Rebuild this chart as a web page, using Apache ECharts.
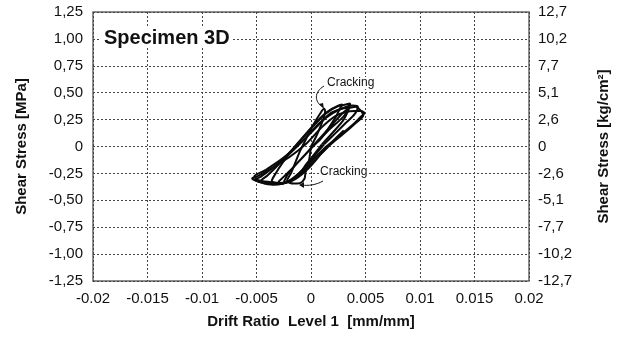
<!DOCTYPE html>
<html><head><meta charset="utf-8">
<script src="https://cdn.jsdelivr.net/npm/echarts@6/dist/echarts.min.js"></script>
<style>html,body{margin:0;padding:0;background:#fff}#c{width:620px;height:337px}</style>
</head><body><div id="c"></div>
<script>
var xTickLabels = ['-0.02','-0.015','-0.01','-0.005','0','0.005','0.01','0.015','0.02'];
var yLeftTickLabels = ['-1,25','-1,00','-0,75','-0,50','-0,25','0','0,25','0,50','0,75','1,00','1,25'];
var yRightTickLabels = ['-12,7','-10,2','-7,7','-5,1','-2,6','0','2,6','5,1','7,7','10,2','12,7'];

var loop1 = [[0,0],[0.0005,0.1],[0.001,0.22],[0.0013,0.33],[0.0012,0.35],[0.0008,0.3],[0.0002,0.2],[-0.0004,0.08],[-0.001,-0.04],[-0.0014,-0.14],[-0.0018,-0.24],[-0.0022,-0.32],[-0.0016,-0.345],[-0.001,-0.34],[-0.0006,-0.3],[-0.0005,-0.24],[-0.0002,-0.14],[0,0]];
var loop2 = [[0,0],[0.0008,0.06],[0.0016,0.17],[0.0023,0.28],[0.0027,0.36],[0.0029,0.39],[0.0025,0.38],[0.0016,0.33],[0.0006,0.24],[-0.0006,0.1],[-0.0016,-0.02],[-0.0026,-0.15],[-0.0033,-0.26],[-0.0036,-0.32],[-0.0031,-0.34],[-0.0022,-0.33],[-0.0012,-0.27],[-0.0004,-0.16],[0.0004,-0.06],[0.001,0.02]];
var loop3 = [[0.001,0.02],[0.002,0.13],[0.003,0.25],[0.0034,0.33],[0.0036,0.4],[0.0032,0.39],[0.0024,0.37],[0.0014,0.31],[0.0004,0.21],[-0.0008,0.08],[-0.002,-0.06],[-0.003,-0.17],[-0.004,-0.27],[-0.0046,-0.32],[-0.0041,-0.345],[-0.003,-0.35],[-0.0018,-0.31],[-0.0008,-0.22],[0.0002,-0.1],[0.0012,0.02]];
var loop4 = [[0.0012,0.02],[0.0022,0.12],[0.0032,0.22],[0.004,0.3],[0.0043,0.37],[0.0038,0.38],[0.003,0.36],[0.002,0.31],[0.0008,0.22],[-0.0006,0.07],[-0.002,-0.07],[-0.0034,-0.19],[-0.0046,-0.28],[-0.0051,-0.31],[-0.0046,-0.335],[-0.0035,-0.355],[-0.0022,-0.33],[-0.001,-0.24],[0.0002,-0.12],[0.0014,0.0]];
var loop5 = [[0.0014,0],[0.0026,0.1],[0.0038,0.2],[0.0046,0.28],[0.0049,0.31],[0.0046,0.33],[0.004,0.33],[0.0032,0.32],[0.0022,0.28],[0.001,0.18],[-0.0005,0.02],[-0.002,-0.1],[-0.0036,-0.2],[-0.0048,-0.27],[-0.0054,-0.295],[-0.005,-0.32],[-0.004,-0.34],[-0.0028,-0.345],[-0.0016,-0.3],[-0.0004,-0.2],[0.0008,-0.08],[0.0018,0.02]];
var loop6 = [[0.0018,0.02],[0.003,0.12],[0.004,0.21],[0.0048,0.29],[0.0045,0.34],[0.0041,0.37],[0.0036,0.36],[0.0028,0.35],[0.0018,0.31],[0.0006,0.19],[-0.001,0.03],[-0.0026,-0.11],[-0.0042,-0.22],[-0.0052,-0.28],[-0.0049,-0.31],[-0.0038,-0.33],[-0.0026,-0.34],[-0.0014,-0.3],[-0.0002,-0.2],[0.001,-0.06],[0.002,0.05],[0.003,0.15]];
var loop7 = [[-0.003,-0.33],[-0.0015,-0.18],[0,-0.02],[0.0015,0.14],[0.003,0.28],[0.0035,0.36],[0.0028,0.3],[0.0012,0.12],[-0.0004,-0.06],[-0.002,-0.24],[-0.0025,-0.33]];
var loops = [loop1, loop2, loop3, loop4, loop5, loop6, loop7];

var FONT = '"Liberation Sans", Arial, sans-serif';
function idx(v, min, step){ return Math.round((v - min) / step); }

var series = loops.map(function(d){
  return {type:'line', data:d, showSymbol:false, symbol:'none', smooth:0.3,
    lineStyle:{color:'#0a0a0a', width:2}, silent:true, animation:false, xAxisIndex:0, yAxisIndex:0};
});

var chart = echarts.init(document.getElementById('c'), null, {renderer:'canvas'});
chart.setOption({
  animation:false,
  backgroundColor:'#fff',
  grid:{left:93, right:91, top:12, bottom:56, show:true, borderColor:'#666', borderWidth:1.5, backgroundColor:'transparent'},
  xAxis:{type:'value', min:-0.02, max:0.02, interval:0.005,
    name:'Drift Ratio  Level 1  [mm/mm]', nameLocation:'middle', nameGap:33,
    nameTextStyle:{fontFamily:FONT, fontSize:15, fontWeight:'bold', color:'#111'},
    axisLine:{show:false}, axisTick:{show:false},
    axisLabel:{fontFamily:FONT, fontSize:15, color:'#111', margin:10,
      formatter:function(v){ return xTickLabels[idx(v,-0.02,0.005)]; }},
    splitLine:{show:true, lineStyle:{color:'#444', type:[2,2], width:1}}},
  yAxis:[
    {type:'value', min:-1.25, max:1.25, interval:0.25, position:'left',
     name:'Shear Stress [MPa]', nameLocation:'middle', nameGap:64, nameRotate:90,
     nameTextStyle:{fontFamily:FONT, fontSize:15, fontWeight:'bold', color:'#111'},
     axisLine:{show:false}, axisTick:{show:false},
     axisLabel:{fontFamily:FONT, fontSize:15, color:'#111', margin:10,
       formatter:function(v){ return yLeftTickLabels[idx(v,-1.25,0.25)]; }},
     splitLine:{show:true, lineStyle:{color:'#444', type:[2,2], width:1}}},
    {type:'value', min:-1.25, max:1.25, interval:0.25, position:'right',
     name:'Shear Stress [kg/cm²]', nameLocation:'middle', nameGap:67, nameRotate:90,
     nameTextStyle:{fontFamily:FONT, fontSize:15, fontWeight:'bold', color:'#111'},
     axisLine:{show:false}, axisTick:{show:false},
     axisLabel:{fontFamily:FONT, fontSize:15, color:'#111', margin:9,
       formatter:function(v){ return yRightTickLabels[idx(v,-1.25,0.25)]; }},
     splitLine:{show:false}}
  ],
  series: series.concat([{type:'line', yAxisIndex:1, data:[], silent:true}]),
  graphic:[
    {type:'text', left:101, top:28, z:100,
     style:{text:'Specimen 3D', font:'bold 20px "Liberation Sans", Arial, sans-serif', fill:'#111',
       backgroundColor:'#fff', padding:[0,3,0,3]}},
    {type:'text', left:327, top:77, z:100,
     style:{text:'Cracking', font:'12px "Liberation Sans", Arial, sans-serif', fill:'#111', backgroundColor:'#fff'}},
    {type:'bezierCurve', z:100, shape:{x1:324,y1:86,cpx1:314,cpy1:92,cpx2:314,cpy2:102,x2:323,y2:107},
     style:{stroke:'#111', lineWidth:1, fill:null}},
    {type:'polygon', z:100, shape:{points:[[324,109],[319,104],[323,103]]}, style:{fill:'#111'}},
    {type:'text', left:320, top:166, z:100,
     style:{text:'Cracking', font:'12px "Liberation Sans", Arial, sans-serif', fill:'#111', backgroundColor:'#fff'}},
    {type:'bezierCurve', z:100, shape:{x1:323,y1:181,cpx1:316,cpy1:185,cpx2:308,cpy2:186,x2:302,y2:185},
     style:{stroke:'#111', lineWidth:1, fill:null}},
    {type:'polygon', z:100, shape:{points:[[299,185],[304,182],[304,188]]}, style:{fill:'#111'}}
  ]
});
</script>
</body></html>
